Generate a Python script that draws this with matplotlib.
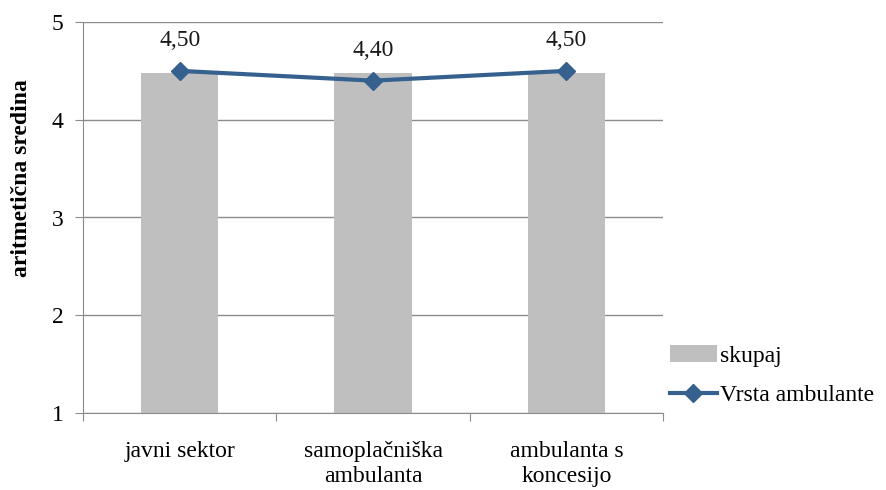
import numpy as np
import matplotlib.pyplot as plt

# podatki
categories = ["javni sektor", "samoplačniška\nambulanta", "ambulanta s\nkoncesijo"]
skupaj = [4.48, 4.48, 4.48]
vrsta_ambulante = [4.50, 4.40, 4.50]
value_labels = ["4,50", "4,40", "4,50"]
y_ticks = [1, 2, 3, 4, 5]

plt.rcParams['font.family'] = ['Liberation Serif', 'DejaVu Serif']

fig = plt.figure(figsize=(8.86, 4.9), dpi=100)
ax = fig.add_axes([83 / 886, 1 - 413 / 490, 580 / 886, 391 / 490])

x = np.arange(len(categories))
bars = ax.bar(x, np.array(skupaj) - 1, bottom=1, width=0.4, color='#BFBFBF', label='skupaj', zorder=2)
line, = ax.plot(x, vrsta_ambulante, color='#36618F', lw=3, marker='D', markersize=9,
                label='Vrsta ambulante', zorder=3)

for xi, v, lab in zip(x, vrsta_ambulante, value_labels):
    ax.text(xi, v + 0.2, lab, ha='center', va='bottom', fontsize=17, color='#1a1a1a')

ax.set_xlim(-0.5, len(categories) - 0.5)
ax.set_ylim(1, 5)
ax.set_yticks(y_ticks)
ax.set_yticklabels([str(t) for t in y_ticks], fontsize=17)
ax.yaxis.grid(True, color='#8C8C8C', lw=1, zorder=0)
ax.set_axisbelow(True)

# kljukice med kategorijami
ax.set_xticks(np.arange(-0.5, len(categories), 1))
ax.set_xticklabels([])
ax.set_xticks(x, minor=True)
ax.set_xticklabels(categories, minor=True, fontsize=17, linespacing=1.25)
ax.tick_params(axis='x', which='minor', length=0, pad=20)
ax.tick_params(axis='x', which='major', length=6, color='#8C8C8C')
ax.tick_params(axis='y', length=6, color='#8C8C8C', pad=8)

for s in ['top', 'right']:
    ax.spines[s].set_visible(False)
for s in ['left', 'bottom']:
    ax.spines[s].set_color('#8C8C8C')

ax.set_ylabel('aritmetična sredina', fontsize=17, fontweight='bold')
ax.yaxis.set_label_coords(-0.088, 0.60)

ax.legend([bars, line], ['skupaj', 'Vrsta ambulante'], loc='center left',
          bbox_to_anchor=(0.995, 0.095), frameon=False, fontsize=17,
          handlelength=2.0, handletextpad=0.15, labelspacing=0.75, borderaxespad=0)

fig.savefig('out.png', dpi=100)
